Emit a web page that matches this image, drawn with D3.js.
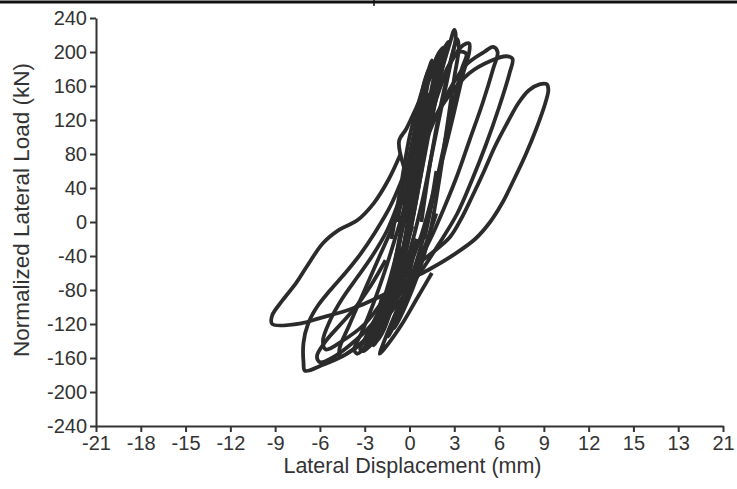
<!DOCTYPE html>
<html>
<head>
<meta charset="utf-8">
<script src="https://cdn.jsdelivr.net/npm/d3@7"></script>
<style>
  body { margin: 0; background: #fff; }
  svg { display: block; }
</style>
</head>
<body>
<div id="main-container"></div>
<script>
// DATA: hysteresis cycles, [displacement mm, load kN]
const xTickValues = [-21, -18, -15, -12, -9, -6, -3, 0, 3, 6, 9, 12, 15, 18, 21];
const xTickLabels = ["-21", "-18", "-15", "-12", "-9", "-6", "-3", "0", "3", "6", "9", "12", "15", "13", "21"];
const yTickValues = [-240, -200, -160, -120, -80, -40, 0, 40, 80, 120, 160, 200, 240];

const cycle1 = [[0,0],[0.3,40],[0.7,90],[1.1,130],[1.3,150],[1.1,140],[0.6,90],[0.1,30],[-0.3,-20],[-0.7,-60],[-1.1,-95],[-1.3,-105],[-1.0,-95],[-0.5,-55],[0,-10]];
const cycle2 = [[0,-10],[0.4,40],[1.0,100],[1.6,160],[1.9,185],[1.7,175],[1.1,120],[0.5,55],[-0.2,-10],[-0.8,-60],[-1.5,-110],[-1.9,-130],[-1.6,-120],[-0.9,-75],[-0.2,-20],[0.3,30]];
const cycle3 = [[0.3,30],[-0.3,60],[-0.7,95],[-0.2,110],[0.6,140],[1.4,170],[2.2,200],[2.6,212],[2.4,200],[1.8,150],[1.2,95],[0.6,40],[0,-15],[-0.8,-70],[-1.6,-115],[-2.4,-145],[-2.2,-140],[-1.4,-100],[-0.6,-45],[0.1,10]];
const cycle4 = [[0.1,10],[0.8,70],[1.6,130],[2.2,180],[2.7,210],[3.0,226],[3.1,218],[2.8,190],[2.2,140],[1.5,80],[0.8,20],[0,-35],[-1.0,-85],[-2.0,-125],[-2.8,-148],[-3.1,-152],[-2.8,-140],[-2.0,-105],[-1.2,-60],[-0.5,-10],[0.2,40]];
const cycle5 = [[0.2,40],[1.2,110],[2.2,165],[3.0,195],[3.6,208],[4.0,210],[4.0,200],[3.6,175],[3.0,130],[2.3,80],[1.6,35],[0.8,-15],[-0.3,-65],[-1.5,-110],[-2.6,-140],[-3.5,-155],[-3.7,-150],[-3.2,-130],[-2.4,-95],[-1.6,-55],[-0.8,-10],[0,35]];
const cycle6 = [[0,35],[1.2,100],[2.5,150],[3.8,185],[5.0,200],[5.6,206],[5.9,200],[5.6,180],[4.9,140],[4.0,95],[3.2,55],[2.4,20],[1.4,-20],[0.2,-60],[-1.2,-100],[-2.5,-130],[-3.8,-150],[-4.6,-158],[-4.7,-150],[-4.0,-120],[-3.0,-80],[-2.0,-40],[-1.0,0],[-0.2,40]];
const cycle7 = [[-0.2,40],[1.0,100],[2.5,145],[4.0,175],[5.5,190],[6.5,195],[6.9,192],[6.7,175],[6.0,135],[5.1,90],[4.2,50],[3.2,10],[2.0,-25],[0.5,-65],[-1.2,-105],[-3.0,-140],[-4.5,-158],[-5.8,-168],[-7.0,-175],[-7.1,-165],[-7.1,-142],[-6.8,-120],[-6.2,-100],[-5.3,-80],[-4.3,-60],[-3.3,-38],[-2.3,-12],[-1.3,18],[-0.5,50]];
const cycle8 = [[0.5,-50],[1.6,-35],[2.7,-18],[3.5,5],[4.2,30],[5.0,60],[5.7,88],[6.5,115],[7.3,140],[8.0,155],[8.7,162],[9.2,162],[9.3,155],[9.1,140],[8.5,110],[7.8,80],[7.0,50],[6.2,22],[5.4,0],[4.4,-20],[3.0,-38],[1.4,-55],[0,-68],[-2,-88],[-4,-103],[-6,-113],[-7.2,-119],[-9.2,-120],[-9.2,-110],[-8.5,-92],[-7.6,-72],[-6.9,-53],[-5.8,-25],[-4.7,-9],[-3.5,2],[-2.4,22],[-1.4,50],[-0.6,80]];
const cycle9 = [[0,-40],[-1.5,-85],[-3,-120],[-4.5,-140],[-5.6,-150],[-5.8,-140],[-5.3,-115],[-4.5,-90],[-3.5,-65],[-2.5,-40],[-1.5,-10],[-0.8,20]];
const cycle10 = [[-0.5,0],[0,60],[0.5,120],[1.0,165],[1.3,180],[1.0,160],[0.4,100],[-0.2,30],[-0.9,-40],[-1.6,-100],[-2.0,-125],[-1.7,-115],[-1.0,-60],[-0.5,0]];
const cycle11 = [[-0.8,0],[-0.2,60],[0.5,120],[1.3,170],[2.0,200],[2.3,205],[2.1,190],[1.6,140],[1.0,80],[0.4,20],[-0.3,-40],[-1.0,-90],[-1.8,-130],[-2.2,-140],[-1.9,-125],[-1.2,-80],[-0.6,-30]];
const cycle12 = [[0.8,0],[1.3,60],[1.9,120],[2.5,170],[2.9,200],[3.2,215],[3.3,205],[3.0,170],[2.5,110],[2.0,50],[1.4,-10],[0.6,-60],[-0.3,-100],[-1.0,-125],[-0.7,-110],[0,-60],[0.5,-20]];
const cycle13 = [[-1.2,-20],[-0.6,40],[0,100],[0.6,140],[1.2,175],[1.5,190],[1.3,170],[0.7,110],[0.1,50],[-0.5,-10],[-1.2,-70],[-2.0,-115],[-2.6,-140],[-2.4,-128],[-1.8,-85]];
const cycle14 = [[-1.0,-80],[-2.5,-120],[-4.0,-145],[-5.2,-160],[-6.0,-165],[-6.2,-158],[-5.6,-140],[-4.6,-120],[-3.6,-100],[-2.6,-75],[-1.6,-45]];
const cycle15 = [[1.5,-60],[0.5,-90],[-0.5,-120],[-1.5,-145],[-2.0,-155],[-1.8,-145],[-1.0,-110],[0,-70],[1,-30],[1.8,10]];
const cycle16 = [[0.5,60],[1.5,130],[2.5,180],[3.3,200],[3.8,198],[3.5,180],[2.8,130],[2.2,80],[1.6,30],[1.0,-20]];
const cycle17 = [[0.5,-20],[-0.3,-60],[-1.0,-95],[-1.8,-125],[-2.8,-148],[-3.3,-150],[-3.0,-138],[-2.2,-110],[-1.4,-80],[-0.6,-45],[0.2,-5]];
const cycle18 = [[1.0,-30],[0.2,-70],[-0.6,-105],[-1.4,-135],[-1.2,-125],[-0.4,-90],[0.4,-50],[1.2,0],[1.8,60]];

const cycles = [cycle1, cycle2, cycle3, cycle4, cycle5, cycle6, cycle7, cycle8, cycle9,
    cycle10, cycle11, cycle12, cycle13, cycle14, cycle15, cycle16, cycle17, cycle18];

// DRAWING SETUP
const width = 737;
const height = 489;
const margin = {top: 18, right: 14, bottom: 63, left: 96};

const x = d3.scaleLinear().domain([-21, 21]).range([margin.left, width - margin.right]);
const y = d3.scaleLinear().domain([-240, 240]).range([height - margin.bottom, margin.top]);

const svg = d3.select("#main-container").append("svg")
    .attr("width", width)
    .attr("height", height)
    .attr("font-family", "'Liberation Sans', Arial, sans-serif");

// top frame line with small tick
svg.append("line")
    .attr("x1", 0).attr("x2", width)
    .attr("y1", 2).attr("y2", 2)
    .style("stroke", "#111")
    .style("stroke-width", 3);
svg.append("line")
    .attr("x1", 374).attr("x2", 374)
    .attr("y1", 0).attr("y2", 6)
    .style("stroke", "#111")
    .style("stroke-width", 1.5);

// loops
const line = d3.line()
    .x(d => x(d[0]))
    .y(d => y(d[1]))
    .curve(d3.curveCatmullRom.alpha(0.5));

svg.append("g")
    .selectAll("path")
    .data(cycles)
    .enter().append("path")
    .attr("d", line)
    .style("fill", "none")
    .style("stroke", "#2b2b2b")
    .style("stroke-width", 3.8)
    .style("stroke-linejoin", "round");

// axes
const xAxis = svg.append("g")
    .attr("transform", `translate(0, ${y(-240)})`)
    .call(d3.axisBottom(x)
        .tickValues(xTickValues)
        .tickFormat((d, i) => xTickLabels[i])
        .tickSize(6)
        .tickSizeOuter(0)
        .tickPadding(4));

const yAxis = svg.append("g")
    .attr("transform", `translate(${x(-21)}, 0)`)
    .call(d3.axisLeft(y)
        .tickValues(yTickValues)
        .tickFormat(d => String(d))
        .tickSize(6)
        .tickSizeOuter(0)
        .tickPadding(3));

[xAxis, yAxis].forEach(a => {
    a.select(".domain").style("stroke", "#333").style("stroke-width", 2);
    a.selectAll(".tick line").style("stroke", "#333").style("stroke-width", 2);
    a.selectAll(".tick text")
        .style("fill", "#333")
        .style("font-size", "20px");
});

// axis titles
svg.append("text")
    .attr("x", (x(-21) + x(21)) / 2 + 3)
    .attr("y", 473)
    .attr("text-anchor", "middle")
    .style("font-size", "21.5px")
    .style("fill", "#333")
    .text("Lateral Displacement (mm)");

svg.append("text")
    .attr("transform", `translate(29, ${y(0) - 12}) rotate(-90)`)
    .attr("text-anchor", "middle")
    .style("font-size", "22.5px")
    .style("fill", "#333")
    .text("Normalized Lateral Load (kN)");
</script>
</body>
</html>
